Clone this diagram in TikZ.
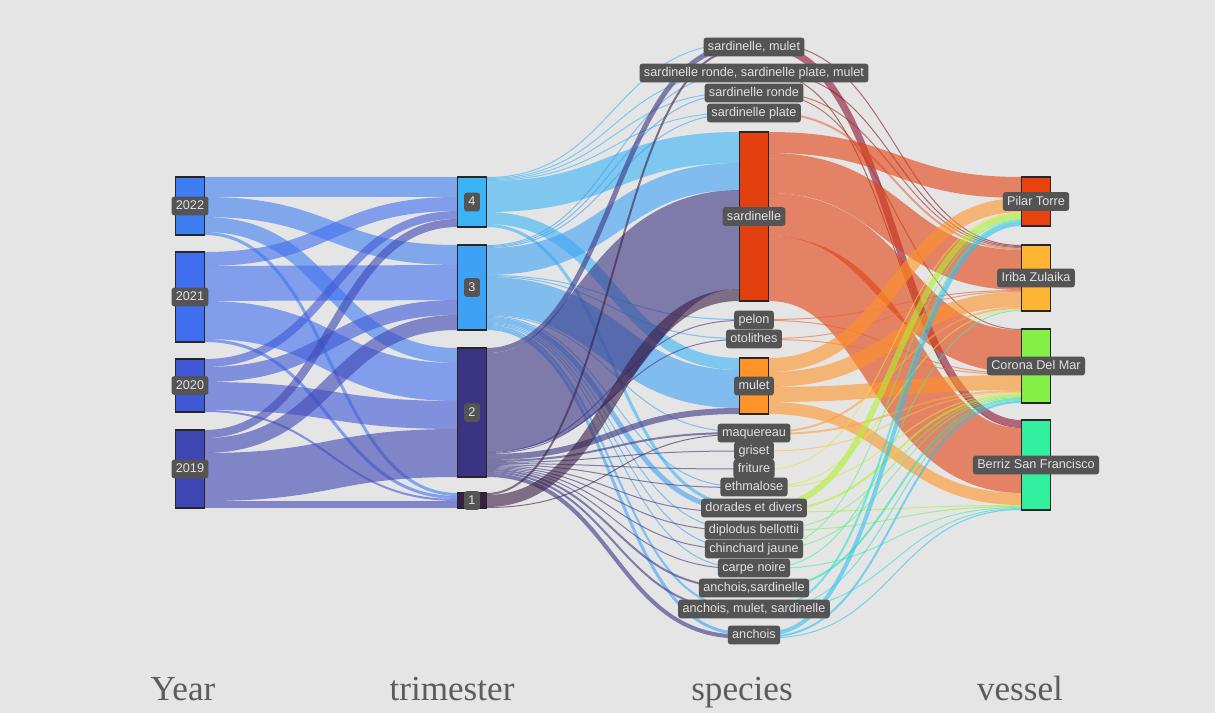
\documentclass[tikz,border=0pt]{standalone}
\usepackage{fontspec}
\setmainfont{Liberation Serif}
\newfontfamily\tagfont{Liberation Sans}
\usetikzlibrary{calc}
\pgfdeclarelayer{links}
\pgfsetlayers{links,main}

\def\pxu{0.02cm}
% colours
\definecolor{canvasc}{HTML}{E5E5E5}
\definecolor{tagc}{HTML}{545454}
\definecolor{tagtext}{HTML}{E2E2E2}
\definecolor{headc}{HTML}{5C5C5C}
\definecolor{y22c}{HTML}{3D7EF2}
\definecolor{y21c}{HTML}{3F6EEF}
\definecolor{y20c}{HTML}{3F58D6}
\definecolor{y19c}{HTML}{3E46B4}
\definecolor{t4c}{HTML}{3AB4F5}
\definecolor{t3c}{HTML}{3DA2F5}
\definecolor{t2c}{HTML}{3A3482}
\definecolor{t1c}{HTML}{3A1E45}
\definecolor{smc}{HTML}{8E1030}
\definecolor{srspmc}{HTML}{801818}
\definecolor{src}{HTML}{A03020}
\definecolor{spc}{HTML}{E07050}
\definecolor{sardc}{HTML}{E2400F}
\definecolor{pelonc}{HTML}{E86030}
\definecolor{otolc}{HTML}{F07030}
\definecolor{muletc}{HTML}{FF9428}
\definecolor{maqc}{HTML}{FFA040}
\definecolor{grisetc}{HTML}{FFC040}
\definecolor{fritc}{HTML}{F0E040}
\definecolor{ethmc}{HTML}{D0F040}
\definecolor{dorc}{HTML}{B0F030}
\definecolor{diplc}{HTML}{80F060}
\definecolor{chinc}{HTML}{60F080}
\definecolor{carpec}{HTML}{40F0A0}
\definecolor{ansac}{HTML}{30E0B0}
\definecolor{amsac}{HTML}{30E0D0}
\definecolor{anchc}{HTML}{30C0F0}
\definecolor{pilarc}{HTML}{E8420F}
\definecolor{iribac}{HTML}{FFB534}
\definecolor{coronac}{HTML}{84F045}
\definecolor{berrizc}{HTML}{33F0A0}

\tikzset{
  nodebox/.style={draw=black!85, line width=0.8pt, inner sep=0pt, outer sep=0pt,
    minimum width={29*\pxu}},
  link/.style={draw opacity=0.6},
  tag/.style={fill=tagc, rounded corners=1.5pt, text=tagtext,
    font=\tagfont\fontsize{7.2}{8.5}\selectfont, inner xsep=2.5pt, inner ysep=1.9pt,
    text height=5.4pt, text depth=1.4pt},
  head/.style={anchor=base, text=headc, font=\fontsize{20}{24}\selectfont},
}

% sankey node: name, x centre, top, height
\newcommand\sknode[4]{%
  \node[nodebox, fill=#1c, minimum height={#4*\pxu}] (#1) at (#2,{#3+#4/2}) {};
  \expandafter\gdef\csname so@#1\endcsname{0}%
  \expandafter\gdef\csname ti@#1\endcsname{0}%
}
% sankey link: source, target, width
\newcommand\flow[3]{%
  \pgfmathsetmacro\fso{\csname so@#1\endcsname+#3/2}%
  \pgfmathsetmacro\fti{\csname ti@#2\endcsname+#3/2}%
  \draw[link, draw=#1c, line width={#3*\pxu}] ($(#1.north east)+(0,\fso)$)
    .. controls +(127,0) and +(-127,0) .. ($(#2.north west)+(0,\fti)$);%
  \pgfmathsetmacro\fso{\csname so@#1\endcsname+#3}%
  \expandafter\xdef\csname so@#1\endcsname{\fso}%
  \pgfmathsetmacro\fti{\csname ti@#2\endcsname+#3}%
  \expandafter\xdef\csname ti@#2\endcsname{\fti}%
}

\begin{document}
\begin{tikzpicture}[x=0.02cm, y=-0.02cm]
  \useasboundingbox (0,0) rectangle (1215,713);
  % year column
  \sknode{y22}{190}{177}{58}
  \sknode{y21}{190}{252}{90}
  \sknode{y20}{190}{359}{53}
  \sknode{y19}{190}{430}{78}
  % trimester column
  \sknode{t4}{472}{177}{50}
  \sknode{t3}{472}{245}{85}
  \sknode{t2}{472}{348}{129}
  \sknode{t1}{472}{493}{15}
  % species column
  \sknode{sm}{754}{43}{8}
  \sknode{srspm}{754}{72}{2}
  \sknode{sr}{754}{92}{2}
  \sknode{sp}{754}{112}{2}
  \sknode{sard}{754}{132}{169}
  \sknode{pelon}{754}{319}{2}
  \sknode{otol}{754}{338}{2}
  \sknode{mulet}{754}{358}{56}
  \sknode{maq}{754}{431}{4}
  \sknode{griset}{754}{450.5}{1}
  \sknode{frit}{754}{468.5}{1}
  \sknode{ethm}{754}{486}{2}
  \sknode{dor}{754}{503.5}{9}
  \sknode{dipl}{754}{529}{2}
  \sknode{chin}{754}{548}{2}
  \sknode{carpe}{754}{567}{2}
  \sknode{ansa}{754}{587}{2}
  \sknode{amsa}{754}{607}{4}
  \sknode{anch}{754}{631.5}{7}
  % vessel column
  \sknode{pilar}{1036}{177}{49}
  \sknode{iriba}{1036}{245}{66}
  \sknode{corona}{1036}{329}{74}
  \sknode{berriz}{1036}{420}{90}

  \begin{pgfonlayer}{links}
    \fill[canvasc] (0,0) rectangle (1215,713);
    % year to trimester
    \flow{y22}{t4}{20} \flow{y22}{t3}{20} \flow{y22}{t2}{15} \flow{y22}{t1}{3}
    \flow{y21}{t4}{14} \flow{y21}{t3}{35} \flow{y21}{t2}{38} \flow{y21}{t1}{3}
    \flow{y20}{t4}{8}  \flow{y20}{t3}{15} \flow{y20}{t2}{28} \flow{y20}{t1}{2}
    \flow{y19}{t4}{8}  \flow{y19}{t3}{15} \flow{y19}{t2}{48} \flow{y19}{t1}{7}
    % trimester to species
    \flow{t4}{sm}{1} \flow{t4}{srspm}{1} \flow{t4}{sr}{1} \flow{t4}{sp}{1}
    \flow{t4}{sard}{31} \flow{t4}{mulet}{12} \flow{t4}{dor}{3}
    \flow{t3}{srspm}{1} \flow{t3}{sr}{1} \flow{t3}{sp}{1} \flow{t3}{sard}{27}
    \flow{t3}{pelon}{1} \flow{t3}{otol}{1} \flow{t3}{mulet}{38} \flow{t3}{maq}{1}
    \flow{t3}{ethm}{1} \flow{t3}{dor}{5} \flow{t3}{dipl}{1} \flow{t3}{chin}{1}
    \flow{t3}{carpe}{1} \flow{t3}{amsa}{2} \flow{t3}{anch}{3}
    \flow{t2}{sm}{5} \flow{t2}{sard}{99} \flow{t2}{pelon}{1} \flow{t2}{otol}{1}
    \flow{t2}{mulet}{6} \flow{t2}{maq}{2} \flow{t2}{griset}{1} \flow{t2}{frit}{1}
    \flow{t2}{ethm}{1} \flow{t2}{dor}{1} \flow{t2}{dipl}{1} \flow{t2}{chin}{1}
    \flow{t2}{carpe}{1} \flow{t2}{ansa}{2} \flow{t2}{amsa}{2} \flow{t2}{anch}{4}
    \flow{t1}{sm}{2} \flow{t1}{sard}{12} \flow{t1}{maq}{1}
    % species to vessel
    \flow{sm}{iriba}{1} \flow{sm}{berriz}{7}
    \flow{srspm}{iriba}{1} \flow{srspm}{berriz}{1}
    \flow{sr}{iriba}{1} \flow{sr}{corona}{1}
    \flow{sp}{iriba}{2}
    \flow{sard}{pilar}{21} \flow{sard}{iriba}{40} \flow{sard}{corona}{43} \flow{sard}{berriz}{65}
    \flow{pelon}{iriba}{1} \flow{pelon}{corona}{1}
    \flow{otol}{iriba}{1} \flow{otol}{corona}{1}
    \flow{mulet}{pilar}{14} \flow{mulet}{iriba}{15} \flow{mulet}{corona}{15} \flow{mulet}{berriz}{12}
    \flow{maq}{iriba}{2} \flow{maq}{corona}{2}
    \flow{griset}{corona}{1}
    \flow{frit}{pilar}{1}
    \flow{ethm}{iriba}{1} \flow{ethm}{corona}{1}
    \flow{dor}{pilar}{6} \flow{dor}{corona}{2} \flow{dor}{berriz}{1}
    \flow{dipl}{corona}{1} \flow{dipl}{berriz}{1}
    \flow{chin}{pilar}{1} \flow{chin}{corona}{1}
    \flow{carpe}{iriba}{1} \flow{carpe}{berriz}{1}
    \flow{ansa}{corona}{2}
    \flow{amsa}{pilar}{2} \flow{amsa}{corona}{1} \flow{amsa}{berriz}{1}
    \flow{anch}{pilar}{4} \flow{anch}{corona}{2} \flow{anch}{berriz}{1}
  \end{pgfonlayer}

  % node labels
  \node[tag] (ly22) at (y22) {2022};
  \node[tag] (ly21) at (y21) {2021};
  \node[tag] (ly20) at (y20) {2020};
  \node[tag] (ly19) at (y19) {2019};
  \node[tag] (lt4) at (t4) {4};
  \node[tag] (lt3) at (t3) {3};
  \node[tag] (lt2) at (t2) {2};
  \node[tag] (lt1) at (t1) {1};
  \node[tag] (lsm) at (sm) {sardinelle, mulet};
  \node[tag] (lsrspm) at (srspm) {sardinelle ronde, sardinelle plate, mulet};
  \node[tag] (lsr) at (sr) {sardinelle ronde};
  \node[tag] (lsp) at (sp) {sardinelle plate};
  \node[tag] (lsard) at (sard) {sardinelle};
  \node[tag] (lpelon) at (pelon) {pelon};
  \node[tag] (lotol) at (otol) {otolithes};
  \node[tag] (lmulet) at (mulet) {mulet};
  \node[tag] (lmaq) at (maq) {maquereau};
  \node[tag] (lgriset) at (griset) {griset};
  \node[tag] (lfrit) at (frit) {friture};
  \node[tag] (lethm) at (ethm) {ethmalose};
  \node[tag] (ldor) at (dor) {dorades et divers};
  \node[tag] (ldipl) at (dipl) {diplodus bellottii};
  \node[tag] (lchin) at (chin) {chinchard jaune};
  \node[tag] (lcarpe) at (carpe) {carpe noire};
  \node[tag] (lansa) at (ansa) {anchois,sardinelle};
  \node[tag] (lamsa) at (amsa) {anchois, mulet, sardinelle};
  \node[tag] (lanch) at (anch) {anchois};
  \node[tag] (lpilar) at (pilar) {Pilar Torre};
  \node[tag] (liriba) at (iriba) {Iriba Zulaika};
  \node[tag] (lcorona) at (corona) {Corona Del Mar};
  \node[tag] (lberriz) at (berriz) {Berriz San Francisco};

  % column headers
  \node[head] (hyear) at (183,700) {Year};
  \node[head] (htri) at (452,700) {trimester};
  \node[head] (hspec) at (742,700) {species};
  \node[head] (hves) at (1020,700) {vessel};
\end{tikzpicture}
\end{document}
